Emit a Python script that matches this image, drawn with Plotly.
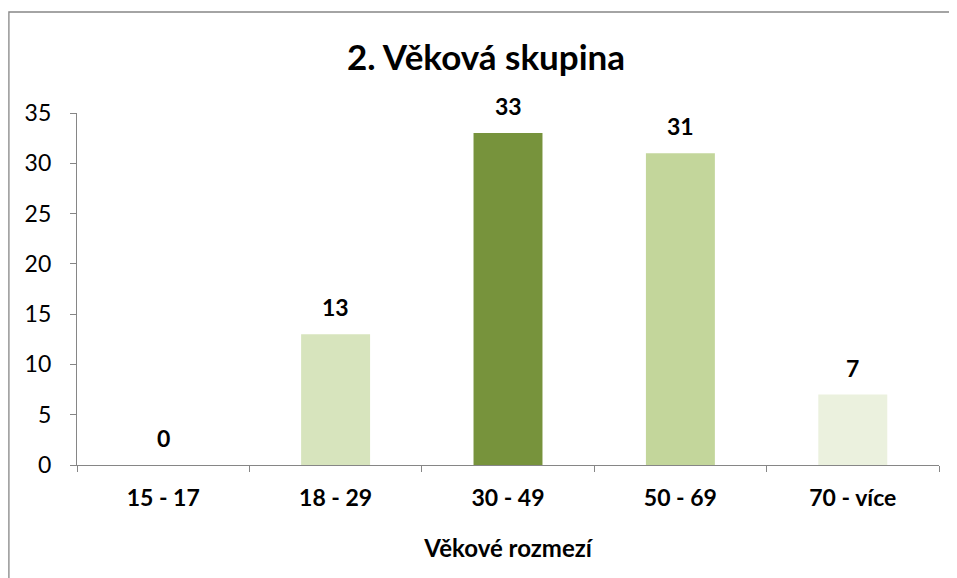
import plotly.graph_objects as go

categories = ["15 - 17", "18 - 29", "30 - 49", "50 - 69", "70 - více"]
values = [0, 13, 33, 31, 7]
bar_colors = ["#D7E4BD", "#D7E4BD", "#77933C", "#C3D69B", "#EBF1DE"]
y_ticks = [0, 5, 10, 15, 20, 25, 30, 35]

FONT = "Lato, 'Open Sans', sans-serif"
AX = "#868686"

fig = go.Figure(go.Bar(
    x=categories, y=values, marker=dict(color=bar_colors, line=dict(width=0)),
    width=0.4, hoverinfo="skip"))

for c, v in zip(categories, values):
    fig.add_annotation(x=c, y=v, text=f"<b>{v}</b>", showarrow=False,
                       yanchor="middle", yshift=27,
                       font=dict(family=FONT, size=23, color="#000"))

fig.add_shape(type="rect", xref="paper", yref="paper",
              x0=-0.079, x1=1.2, y0=-0.6, y1=1.287,
              line=dict(color=AX, width=1.3), layer="below")

fig.update_layout(
    width=949, height=570,
    margin=dict(l=69, r=18, t=105, b=113),
    paper_bgcolor="white", plot_bgcolor="white",
    showlegend=False,
    title=dict(text="<b>2. Věková skupina</b>", x=(486 - 8) / 949, xanchor="center",
               y=1 - 50 / 570, yanchor="middle",
               font=dict(family=FONT, size=35, color="#000")),
    xaxis=dict(type="category", showline=True, linecolor=AX, linewidth=1.3,
               ticks="outside", tickson="boundaries", ticklen=6, tickcolor=AX,
               ticklabelstandoff=12,
               tickfont=dict(family=FONT, size=23, color="#000"),
               tickprefix="<b>", ticksuffix="</b>",
               title=dict(text="<b>Věkové rozmezí</b>", standoff=30,
                          font=dict(family=FONT, size=24, color="#000")),
               showgrid=False),
    yaxis=dict(range=[0, 35], tickvals=y_ticks, showline=True, linecolor=AX,
               linewidth=1.3, ticks="outside", ticklen=6, tickcolor=AX,
               ticklabelstandoff=14,
               tickfont=dict(family=FONT, size=23, color="#000"),
               showgrid=False, zeroline=False),
)

fig.write_html("out.html")
